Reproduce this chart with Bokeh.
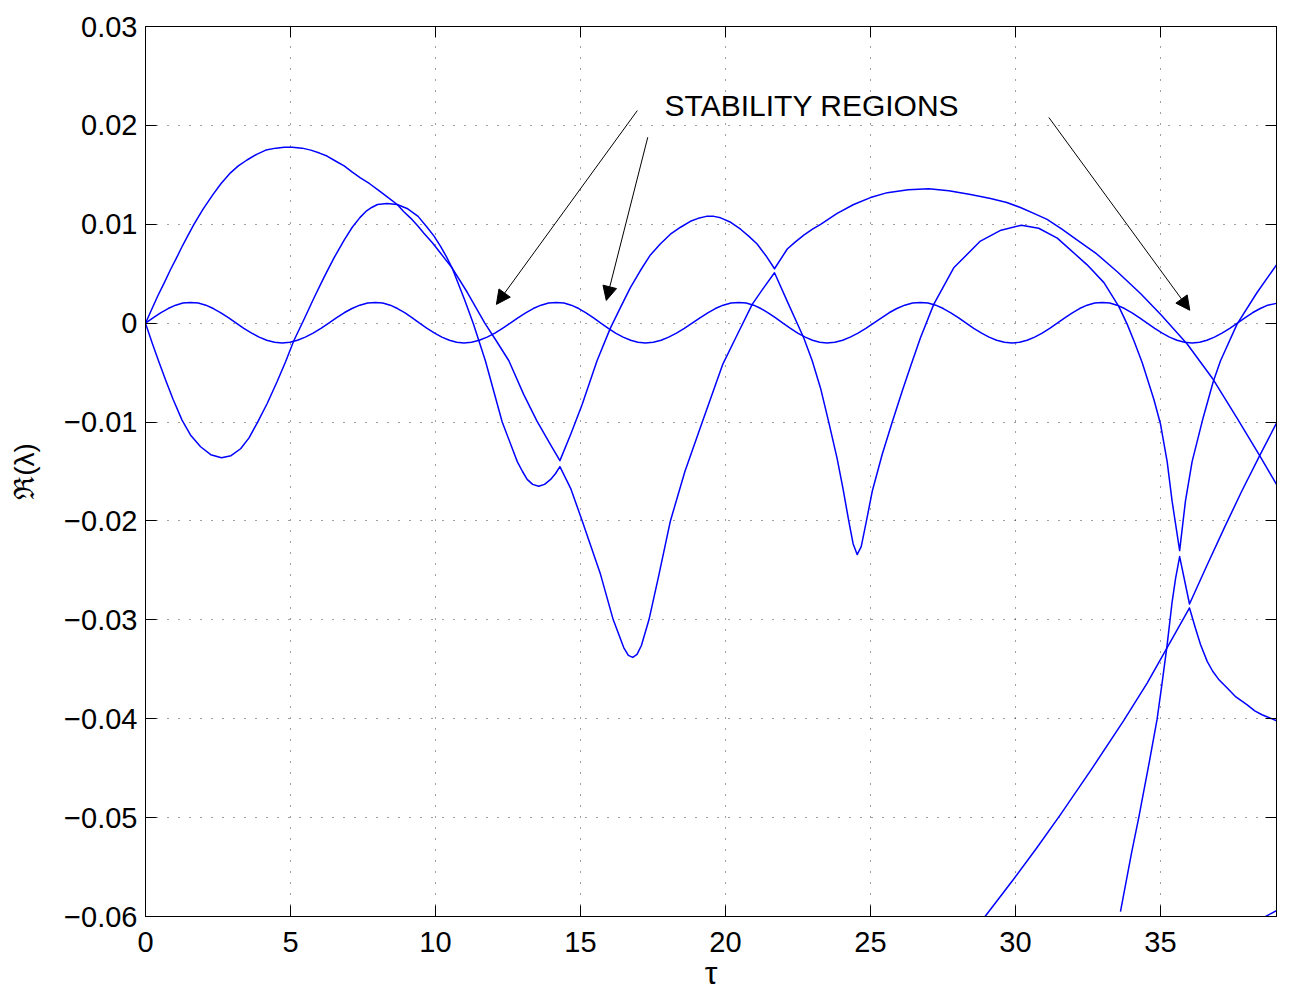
from bokeh.plotting import figure
from bokeh.models import (Range1d, FixedTicker, LinearAxis, Arrow, NormalHead,
                          Label, CustomJSTickFormatter)
from bokeh.embed import file_html
from bokeh.resources import INLINE

# ---------------- data ----------------
x_ticks = [0, 5, 10, 15, 20, 25, 30, 35]
y_ticks = [-0.06, -0.05, -0.04, -0.03, -0.02, -0.01, 0.0, 0.01, 0.02, 0.03]

# small oscillating branch
s_x = [0, 0.26, 0.52, 0.78, 1.04, 1.29, 1.55, 1.82, 2.08, 2.34, 2.6, 2.87, 3.13,
       3.39, 3.66, 3.92, 4.18, 4.45, 4.71, 4.98, 5.24, 5.51, 5.78, 6.05, 6.32,
       6.58, 6.85, 7.12, 7.39, 7.66, 7.93, 8.18, 8.44, 8.69, 8.95, 9.2, 9.45,
       9.71, 9.97, 10.22, 10.48, 10.73, 10.98, 11.24, 11.51, 11.78, 12.05, 12.31, 12.58,
       12.84, 13.11, 13.37, 13.64, 13.9, 14.17, 14.43, 14.68, 14.94, 15.19, 15.45, 15.7,
       15.96, 16.21, 16.47, 16.73, 16.98, 17.24, 17.51, 17.78, 18.04, 18.31, 18.58, 18.85,
       19.12, 19.39, 19.65, 19.92, 20.19, 20.46, 20.71, 20.97, 21.22, 21.47, 21.73, 21.98,
       22.24, 22.49, 22.75, 23.0, 23.25, 23.5, 23.77, 24.04, 24.3, 24.57, 24.84, 25.11,
       25.38, 25.64, 25.91, 26.18, 26.45, 26.72, 26.98, 27.25, 27.51, 27.77, 28.04, 28.3,
       28.56, 28.83, 29.09, 29.35, 29.62, 29.88, 30.14, 30.4, 30.66, 30.92, 31.18, 31.44,
       31.7, 31.96, 32.21, 32.47, 32.73, 32.99, 33.25, 33.5, 33.76, 34.02, 34.28, 34.54,
       34.8, 35.06, 35.31, 35.57, 35.83, 36.09, 36.35, 36.6, 36.86, 37.12, 37.39, 37.65,
       37.91, 38.17, 38.44, 38.7, 39.0]
s_y = [0, 0.00054, 0.00105, 0.00148, 0.00182, 0.00203, 0.0021, 0.00203, 0.00182, 0.00148, 0.00105, 0.00054, 0,
       -0.00052, -0.0010, -0.00141, -0.00173, -0.00193, -0.0020, -0.00193, -0.00173, -0.00141, -0.0010, -0.00052, 0,
       0.00054, 0.00105, 0.00148, 0.00182, 0.00203, 0.0021, 0.00203, 0.00182, 0.00148, 0.00105, 0.00054, 0,
       -0.00052, -0.0010, -0.00141, -0.00173, -0.00193, -0.0020, -0.00193, -0.00173, -0.00141, -0.0010, -0.00052, 0,
       0.00054, 0.00105, 0.00148, 0.00182, 0.00203, 0.0021, 0.00203, 0.00182, 0.00148, 0.00105, 0.00054, 0,
       -0.00052, -0.0010, -0.00141, -0.00173, -0.00193, -0.0020, -0.00193, -0.00173, -0.00141, -0.0010, -0.00052, 0,
       0.00054, 0.00105, 0.00148, 0.00182, 0.00203, 0.0021, 0.00203, 0.00182, 0.00148, 0.00105, 0.00054, 0,
       -0.00052, -0.0010, -0.00141, -0.00173, -0.00193, -0.0020, -0.00193, -0.00173, -0.00141, -0.0010, -0.00052, 0,
       0.00054, 0.00105, 0.00148, 0.00182, 0.00203, 0.0021, 0.00203, 0.00182, 0.00148, 0.00105, 0.00054, 0,
       -0.00052, -0.0010, -0.00141, -0.00173, -0.00193, -0.0020, -0.00193, -0.00173, -0.00141, -0.0010, -0.00052, 0,
       0.00054, 0.00105, 0.00148, 0.00182, 0.00203, 0.0021, 0.00203, 0.00182, 0.00148, 0.00105, 0.00054, 0,
       -0.00052, -0.0010, -0.00141, -0.00173, -0.00193, -0.0020, -0.00193, -0.00173, -0.00141, -0.0010, -0.00052, 0,
       0.00054, 0.00105, 0.00148, 0.00182, 0.00200]

# branch B: large first arch, then second arch
b_x = [0, 0.2, 0.43, 0.65, 0.86, 1.07, 1.27, 1.47, 1.67, 1.98, 2.3, 2.6, 2.93, 3.2,
       3.5, 3.85, 4.15, 4.5, 4.78, 5.06, 5.4, 5.7, 6.0, 6.26, 6.55, 6.85, 7.12, 7.41,
       7.73, 8.05, 8.37, 8.68, 8.9, 9.15, 9.4, 9.6, 9.9, 10.17, 10.38, 10.57, 11.1,
       11.7, 12.1, 12.53, 13.04, 13.5, 13.97, 14.29, 14.66, 15.06, 15.57, 16.03, 16.38,
       16.72, 17.06, 17.41, 17.75, 18.1, 18.45, 18.79, 19.06, 19.34, 19.6, 19.83,
       20.18, 20.52, 20.8, 21.09, 21.4, 21.69, 22.13, 22.4, 22.7, 23.0, 23.28, 23.85,
       24.42, 25.0, 25.58, 26.3, 27.01, 27.7, 28.45, 29.14, 29.7, 30.17, 30.63, 31.09,
       31.6, 32.13, 32.8, 33.51, 34.31, 35.0, 35.92, 36.82, 37.64, 38.42, 39.0]
b_y = [0, 0.0013, 0.0028, 0.0041, 0.0054, 0.0066, 0.0078, 0.0089, 0.0100, 0.0115,
       0.0129, 0.0141, 0.0152, 0.0159, 0.0165, 0.0171, 0.0175, 0.0177, 0.0178, 0.0178,
       0.0177, 0.0175, 0.0172, 0.0169, 0.0164, 0.0159, 0.0153, 0.0147, 0.0141, 0.0134,
       0.0127, 0.0120, 0.0113, 0.0106, 0.0098, 0.0091, 0.0081, 0.0071, 0.0063, 0.0056,
       0.0031, 0.0, -0.0018, -0.0038, -0.0072, -0.0099, -0.0123, -0.0139, -0.01125,
       -0.0082, -0.0038, -0.0005, 0.0016, 0.0036, 0.0053, 0.0069, 0.0080, 0.0090,
       0.0097, 0.0103, 0.0106, 0.0108, 0.0108, 0.01065, 0.0102, 0.0095, 0.0088, 0.0080,
       0.0068, 0.0055, 0.0075, 0.0082, 0.0089, 0.0095, 0.0100, 0.0111, 0.0120, 0.0127,
       0.0132, 0.0135, 0.0136, 0.0134, 0.0130, 0.0126, 0.0122, 0.0117, 0.0111, 0.0105,
       0.0095, 0.0084, 0.0070, 0.0052, 0.0030, 0.0009, -0.0021, -0.0057, -0.0096,
       -0.0134, -0.0163]

# branch C: first dip, deep minima
c_x = [0, 0.23, 0.46, 0.7, 0.95, 1.26, 1.55, 1.9, 2.25, 2.62, 2.95, 3.28, 3.57, 3.85,
       4.2, 4.54, 4.83, 5.11, 5.5, 5.8, 6.15, 6.5, 6.85, 7.13, 7.4, 7.6, 7.8, 8.0,
       8.33, 8.68, 9.02, 9.4, 9.71, 9.95, 10.17, 10.38, 10.57, 11.0, 11.3, 11.72, 12.3,
       12.82, 13.0, 13.16, 13.35, 13.56, 13.76, 13.97, 14.14, 14.29, 14.66, 15.06,
       15.69, 16.13, 16.49, 16.65, 16.8, 16.95, 17.1, 17.36, 17.7, 18.1, 18.6, 19.2,
       19.9, 20.4, 20.92, 21.32, 21.69, 22.13, 22.7, 22.99, 23.28, 23.56, 23.85, 24.05,
       24.25, 24.4, 24.54, 24.68, 24.86, 25.06, 25.4, 25.75, 26.1, 26.4, 26.72, 27.18,
       27.87, 28.79, 29.5, 30.2, 30.8, 31.44, 32.47, 33.05, 33.56, 33.85, 34.1, 34.37,
       34.77, 35.0, 35.23, 35.4, 35.66, 35.86, 36.09, 36.44, 36.82, 37.07, 37.64,
       38.33, 39.0]
c_y = [0, -0.0020, -0.0039, -0.0058, -0.0077, -0.0098, -0.0113, -0.0125, -0.0133,
       -0.0136, -0.0134, -0.0127, -0.0116, -0.0101, -0.0081, -0.0059, -0.0039, -0.0018,
       0.0006, 0.0025, 0.0046, 0.0066, 0.0084, 0.0097, 0.0107, 0.0113, 0.0117, 0.0120,
       0.0121, 0.0120, 0.0116, 0.0108, 0.0097, 0.0088, 0.0078, 0.0067, 0.0056, 0.0024,
       0.0, -0.0038, -0.0100, -0.0140, -0.0150, -0.0158, -0.0163, -0.0165, -0.0163,
       -0.0158, -0.0152, -0.0145, -0.0167, -0.0200, -0.0254, -0.0300, -0.0328, -0.0336,
       -0.0338, -0.0335, -0.0326, -0.0300, -0.0255, -0.0200, -0.0150, -0.0100, -0.0042,
       -0.0012, 0.0019, 0.0036, 0.0051, 0.0022, -0.0015, -0.0038, -0.0066, -0.0100,
       -0.0137, -0.0167, -0.0200, -0.0223, -0.0234, -0.0226, -0.0200, -0.0170, -0.0133,
       -0.0100, -0.0068, -0.0042, -0.0015, 0.0019, 0.0056, 0.0083, 0.0094, 0.0099,
       0.0096, 0.0086, 0.0059, 0.0041, 0.0017, -0.0001, -0.0019, -0.0040, -0.0077,
       -0.0102, -0.0140, -0.0180, -0.0230, -0.0180, -0.0140, -0.0099, -0.0059, -0.0038,
       -0.0001, 0.0031, 0.0059]

# branch D: steep branch rising from the bottom near tau = 34
d_x = [33.62, 34.0, 34.25, 34.6, 34.88, 35.05, 35.23, 35.4, 35.52, 35.66, 36.0,
       36.6, 37.2, 37.8, 38.42, 39.0]
d_y = [-0.0595, -0.0536, -0.0500, -0.0446, -0.0401, -0.0365, -0.0325, -0.0282,
       -0.0258, -0.0236, -0.0284, -0.0245, -0.0207, -0.0170, -0.0134, -0.0101]

# branch E: shallow branch from the bottom near tau = 29
e_x = [28.95, 29.94, 30.75, 31.55, 32.6, 33.73, 34.54, 35.23, 36.0, 36.2, 36.38,
       36.61, 36.8, 37.0, 37.3, 37.6, 37.99, 38.25, 38.5, 38.75, 39.0]
e_y = [-0.0600, -0.0562, -0.0530, -0.0497, -0.0452, -0.0402, -0.0364, -0.0328,
       -0.0288, -0.0308, -0.0325, -0.0342, -0.0352, -0.0360, -0.0369, -0.0378,
       -0.0386, -0.0392, -0.0396, -0.0399, -0.0402]

# branch F: tiny piece entering at the bottom right
f_x = [38.56, 39.0]
f_y = [-0.0601, -0.0594]

annotation_text = "STABILITY REGIONS"
annotation_pos = (17.9, 0.0220)
arrow_x_start = [16.96, 17.32, 31.15]
arrow_y_start = [0.0215, 0.0188, 0.0208]
arrow_x_end = [12.1, 15.89, 36.01]
arrow_y_end = [0.0019, 0.0023, 0.0013]

x_label = "\u03c4"
y_label = "\u211c(\u03bb)"

# ---------------- figure ----------------
FONT = "Liberation Sans"
p = figure(width=1290, height=994, output_backend="svg", toolbar_location=None,
           x_range=Range1d(0, 39), y_range=Range1d(-0.06, 0.03),
           min_border_left=145, min_border_right=14, min_border_top=26,
           min_border_bottom=78, background_fill_color="white",
           border_fill_color="white")
p.outline_line_color = "black"
p.outline_line_width = 1

blue = "#0000ff"
for xs, ys in [(s_x, s_y), (b_x, b_y), (c_x, c_y), (d_x, d_y), (e_x, e_y), (f_x, f_y)]:
    p.line(xs, ys, line_color=blue, line_width=1.5, line_join="round")

# axes
p.xaxis.ticker = FixedTicker(ticks=x_ticks)
p.yaxis.ticker = FixedTicker(ticks=y_ticks)
p.yaxis.formatter = CustomJSTickFormatter(code="""
    if (Math.abs(tick) < 1e-9) return '0';
    const s = Math.abs(tick).toFixed(2);
    return tick < 0 ? '\u2212' + s : s;
""")
for ax in (p.xaxis[0], p.yaxis[0]):
    ax.major_tick_in = 11
    ax.major_tick_out = 0
    ax.minor_tick_in = 0
    ax.minor_tick_out = 0
    ax.axis_line_color = "black"
    ax.major_tick_line_color = "black"
    ax.major_label_text_font = FONT
    ax.major_label_text_font_size = "29px"
    ax.major_label_text_color = "black"
    ax.axis_label_text_font_style = "normal"
    ax.axis_label_text_color = "black"
p.xaxis.major_label_standoff = 15
p.xaxis.axis_label = x_label
p.xaxis.axis_label_text_font = FONT
p.xaxis.axis_label_text_font_size = "32px"
p.xaxis.axis_label_standoff = 0
p.yaxis.major_label_standoff = 8
p.yaxis.axis_label = y_label
p.yaxis.axis_label_text_font = FONT
p.yaxis.axis_label_text_font_size = "28px"
p.yaxis.axis_label_standoff = 21

# box ticks on top and right (no labels)
top = LinearAxis(ticker=FixedTicker(ticks=x_ticks))
right = LinearAxis(ticker=FixedTicker(ticks=y_ticks))
for ax in (top, right):
    ax.major_tick_in = 11
    ax.major_tick_out = 0
    ax.minor_tick_in = 0
    ax.minor_tick_out = 0
    ax.major_label_text_color = None
    ax.major_label_text_font_size = "1px"
    ax.major_label_standoff = 0
    ax.axis_line_color = "black"
p.add_layout(top, "above")
p.add_layout(right, "right")

# grid
for g in (p.xgrid[0], p.ygrid[0]):
    g.grid_line_color = "black"
    g.grid_line_alpha = 0.75
    g.grid_line_dash = "1 10"
    g.grid_line_width = 1
p.xgrid.ticker = FixedTicker(ticks=x_ticks)
p.ygrid.ticker = FixedTicker(ticks=y_ticks)

# annotation
p.add_layout(Label(x=annotation_pos[0], y=annotation_pos[1], text=annotation_text,
                   text_font=FONT, text_font_size="30px", text_color="black",
                   text_baseline="middle", text_align="left"))
for xs0, ys0, xe, ye in zip(arrow_x_start, arrow_y_start, arrow_x_end, arrow_y_end):
    p.add_layout(Arrow(x_start=xs0, y_start=ys0, x_end=xe, y_end=ye,
                       line_color="black", line_width=1,
                       end=NormalHead(size=14, fill_color="black", line_color="black",
                                      line_width=1)))

open("out.html", "w").write(file_html(p, INLINE))
